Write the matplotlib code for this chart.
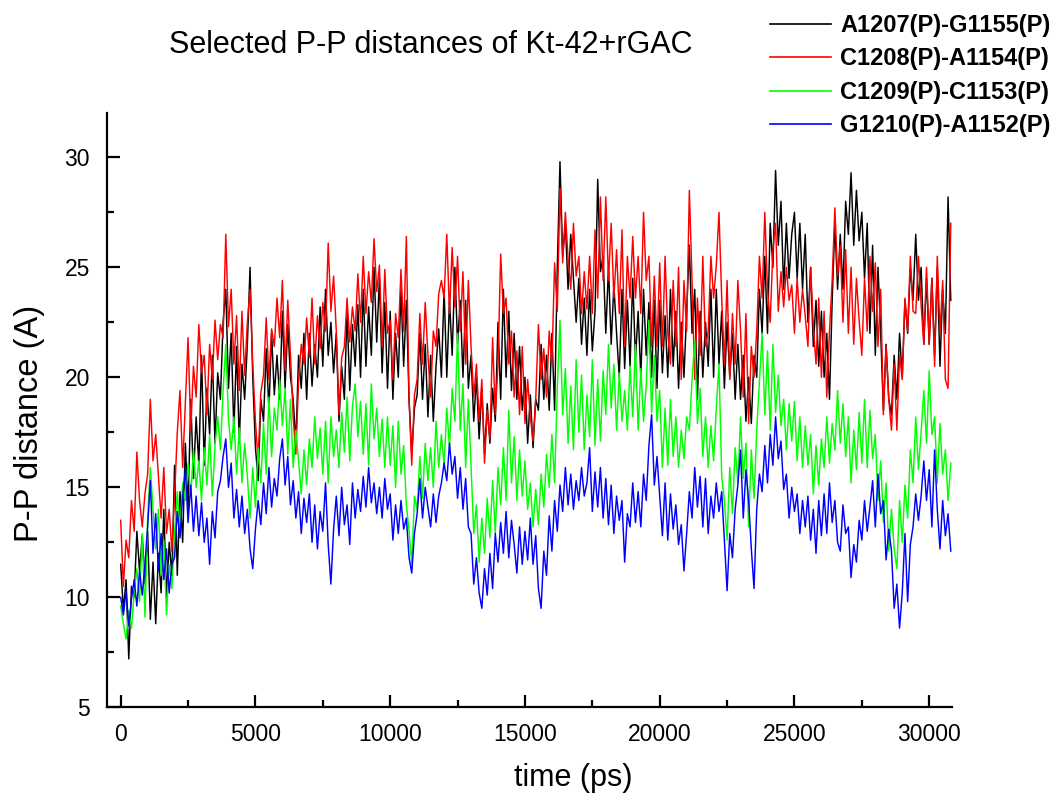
import numpy as np
import matplotlib
matplotlib.use("Agg")
import matplotlib.pyplot as plt
from matplotlib.ticker import MultipleLocator

plt.rcParams['font.family'] = ['Liberation Sans', 'DejaVu Sans']

title = "Selected P-P distances of Kt-42+rGAC"
xlabel = "time (ps)"
ylabel = "P-P distance (A)"
labels = ["A1207(P)-G1155(P)", "C1208(P)-A1154(P)", "C1209(P)-C1153(P)", "G1210(P)-A1152(P)"]
colors = ["#000000", "#ff0000", "#00ff00", "#0000ff"]
dt = 100  # ps between samples

black_A1207 = [
    11.5, 9.4, 10.8, 7.2, 10.5, 10.0, 13.0, 11.2, 12.8, 10.6,
    13.0, 9.0, 11.6, 8.8, 12.0, 10.2, 14.0, 10.0, 12.5, 11.0,
    16.0, 11.0, 14.8, 12.5, 17.0, 14.0, 19.0, 15.4, 18.2, 16.0,
    21.0, 16.0, 19.5, 17.4, 21.0, 17.0, 20.2, 19.0, 22.5, 24.0,
    19.5, 22.0, 17.5, 21.4, 17.0, 20.6, 19.0, 21.5, 25.0, 20.0,
    16.8, 15.3, 19.0, 18.0, 21.3, 18.5, 22.0, 19.2, 21.0, 19.0,
    23.0, 19.5, 22.4, 20.0, 19.0, 17.0, 21.0, 19.5, 22.0, 19.0,
    22.0, 19.6, 21.5, 20.0, 23.2, 20.5, 24.0, 21.0, 22.5, 20.2,
    22.0, 18.0, 20.5, 19.0, 23.0, 19.4, 22.4, 20.5, 23.3, 20.0,
    24.0, 20.5, 23.2, 21.0, 25.0, 21.6, 24.5, 20.2, 23.4, 19.5,
    23.0, 19.0, 22.0, 20.0, 24.0, 20.5, 23.5, 19.0, 16.5, 18.6,
    19.2, 22.0, 19.0, 21.5, 18.2, 21.0, 18.0, 20.5, 22.2, 20.0,
    24.0, 20.0, 23.5, 21.0, 25.0, 21.5, 23.5, 20.0, 23.5, 19.5,
    21.0, 18.0, 20.0, 17.2, 19.5, 16.5, 18.8, 17.0, 19.5, 18.0,
    22.5, 19.0, 24.0, 20.0, 23.0, 19.4, 22.0, 19.0, 21.4, 18.5,
    20.0, 17.0, 19.2, 16.8, 19.0, 18.5, 21.5, 19.0, 21.0, 18.5,
    22.0, 18.5, 25.0, 29.8, 25.5, 27.0, 24.0, 26.5, 24.5, 22.5,
    24.5, 21.5, 23.6, 21.0, 24.0, 21.2, 23.0, 29.0, 24.8, 25.5,
    22.0, 25.0, 21.5, 24.2, 22.0, 20.0, 24.0, 20.4, 23.5, 20.5,
    24.5, 20.8, 23.0, 20.0, 24.0, 21.0, 23.4, 20.0, 23.5, 19.5,
    23.5, 20.2, 22.8, 20.0, 24.0, 20.5, 23.0, 19.5, 22.5, 20.0,
    23.0, 26.0, 22.0, 24.0, 19.0, 23.0, 20.0, 22.5, 20.5, 24.0,
    20.0, 24.0, 20.6, 23.0, 19.5, 22.5, 20.0, 22.0, 19.0, 21.5,
    19.0, 21.0, 18.0, 20.0, 17.9, 21.0, 20.0, 24.0, 22.0, 25.5,
    22.0, 27.0, 25.0, 29.4, 26.0, 28.0, 24.0, 27.0, 24.5, 26.5,
    27.5, 24.5, 27.0, 24.0, 26.5, 22.5, 25.0, 21.4, 23.5, 20.5,
    23.0, 20.0, 22.0, 19.0, 23.5, 27.0, 24.0, 26.5, 24.0, 28.0,
    26.5, 29.3, 26.0, 28.5, 26.2, 27.5, 24.5, 27.0, 22.0, 26.0,
    21.0, 25.0, 22.0, 18.5, 21.5, 19.0, 18.3, 21.0, 19.0, 22.0,
    20.0, 23.5, 22.0, 25.0, 23.5, 26.5, 23.5, 25.0, 21.5, 24.5,
    21.5, 24.5, 21.0, 25.0, 20.5, 24.0, 22.0, 28.2, 23.5,
]

red_C1208 = [
    13.5, 10.5, 12.6, 11.8, 14.4, 13.0, 16.6, 14.4, 13.2, 14.7,
    15.6, 19.0, 16.2, 17.4, 15.5, 13.6, 15.9, 12.9, 14.0, 12.1,
    14.6, 17.5, 19.4, 15.9, 18.8, 21.8, 17.6, 20.5, 19.1, 22.4,
    20.2, 21.0, 18.3, 21.5, 19.9, 22.6, 20.8, 22.4, 21.8, 26.5,
    22.3, 24.0, 20.6, 22.8, 19.4, 23.0, 20.1, 22.5, 24.0, 20.6,
    18.0, 16.2, 19.3, 20.1, 22.7, 19.9, 22.2, 21.4, 23.6, 21.8,
    24.4, 20.3, 23.5, 21.0, 18.2, 16.5, 19.8, 21.5, 20.6, 22.7,
    20.9, 23.6, 20.6, 22.8, 21.3, 23.4, 22.1, 26.1, 23.0, 24.6,
    22.1, 18.3, 20.9, 21.4, 23.6, 21.6, 23.2, 22.1, 24.7, 22.5,
    25.5, 22.9, 24.8, 23.4, 26.3, 23.9, 25.1, 21.4, 24.9, 22.0,
    22.6, 19.9, 22.9, 21.8, 24.9, 22.1, 26.4, 19.0, 16.0, 19.2,
    19.9, 22.9, 20.6, 23.4, 21.0, 19.1, 22.1, 21.4, 23.8, 24.4,
    23.6, 26.5, 22.9, 25.9, 23.2, 25.5, 22.1, 24.8, 20.6, 24.4,
    21.4, 19.1, 20.6, 18.0, 19.9, 16.1, 18.5, 17.2, 21.8, 18.3,
    20.6, 25.6, 22.9, 23.6, 20.6, 22.1, 19.1, 21.2, 18.3, 21.4,
    17.9, 19.9, 18.2, 17.1, 19.0, 22.4, 19.9, 21.3, 19.1, 22.1,
    20.6, 25.2, 23.0, 28.6, 25.2, 27.5, 25.4, 24.0, 27.0, 24.6,
    25.5, 22.9, 24.8, 23.1, 25.5, 22.9, 26.7, 23.6, 28.2, 24.4,
    28.2, 24.4, 27.0, 23.6, 25.8, 22.9, 26.7, 21.4, 25.5, 23.6,
    26.4, 23.6, 25.5, 22.9, 27.5, 24.4, 25.5, 21.4, 24.6, 21.4,
    25.2, 21.4, 25.5, 22.0, 20.6, 24.4, 21.4, 25.0, 19.9, 24.4,
    22.1, 28.5, 24.4, 19.9, 23.6, 21.0, 25.5, 21.4, 22.1, 25.5,
    23.6, 25.1, 27.5, 23.6, 20.6, 24.4, 19.9, 22.9, 20.6, 24.4,
    22.1, 19.1, 22.9, 17.9, 21.4, 20.0, 22.1, 25.5, 23.6, 27.5,
    24.0, 22.5, 25.8, 27.0, 23.0, 24.8, 23.2, 25.0, 23.5, 24.2,
    22.0, 24.5, 22.5, 24.0, 22.8, 21.4, 25.0, 22.3, 20.6, 23.6,
    20.0, 23.0, 19.1, 22.1, 24.4, 27.7, 24.6, 26.0, 22.5, 25.8,
    22.0, 25.0, 21.5, 24.5, 22.6, 21.0, 24.5, 22.1, 25.5, 23.0,
    25.2, 21.4, 24.0, 18.3, 21.4, 19.0, 17.6, 20.6, 17.6, 21.0,
    19.9, 23.6, 22.1, 25.5, 23.0, 22.9, 25.5, 23.3, 21.5, 25.0,
    21.5, 24.5, 20.5, 25.5, 22.0, 24.4, 19.9, 19.5, 27.0,
]

green_C1209 = [
    9.6, 8.8, 8.1, 9.4, 8.6, 10.2, 11.3, 9.8, 12.9, 9.1,
    13.6, 15.9, 14.0, 12.2, 14.0, 11.0, 12.6, 9.2, 11.5, 10.4,
    12.9, 14.8, 13.1, 15.2, 14.4, 16.1, 14.6, 16.7, 15.0, 16.2,
    14.4, 16.8, 15.1, 17.4, 14.6, 16.9, 18.2, 16.7, 19.4, 21.5,
    18.1, 16.7, 18.2, 15.6, 17.7, 15.2, 17.0, 15.5, 13.6, 15.9,
    14.1, 16.8, 15.2, 17.9, 15.6, 19.1, 16.4, 18.6, 17.6, 19.9,
    17.8, 19.5, 16.5, 19.0, 15.9, 17.6, 16.2, 14.7, 16.7, 15.1,
    17.2, 15.9, 18.2, 16.3, 17.7, 15.6, 18.0, 15.2, 18.2, 16.4,
    17.6, 15.9, 18.4, 16.6, 19.1, 16.2, 18.7, 19.7, 17.3, 18.9,
    16.5, 18.8, 16.0, 19.7, 17.2, 18.6, 16.4, 18.1, 15.9, 18.2,
    16.0, 17.8, 15.0, 18.0, 15.6, 16.9, 14.2, 13.0, 11.5, 14.6,
    14.0, 16.4, 14.5, 17.0, 15.3, 16.8, 15.0, 18.0, 15.9, 17.4,
    16.0, 18.6, 16.8, 19.5, 18.0, 22.0, 17.6, 19.7, 15.9, 19.0,
    15.9, 12.9, 14.2, 11.6, 13.6, 12.0, 14.5, 12.7, 15.3, 12.9,
    15.9, 14.2, 16.8, 14.4, 18.5, 15.2, 17.3, 14.4, 16.7, 14.6,
    16.2, 14.0, 15.2, 13.2, 14.9, 13.3, 15.6, 14.1, 16.5, 15.0,
    17.4, 15.2, 19.5, 22.6, 18.3, 20.4, 17.0, 19.6, 16.7, 20.8,
    17.5, 20.1, 16.7, 19.2, 17.3, 20.8, 16.9, 19.9, 17.1, 20.3,
    18.3, 21.5, 18.6, 20.6, 17.6, 20.2, 18.0, 19.4, 17.6, 20.5,
    18.2, 21.5, 17.6, 20.4, 18.0, 19.6, 22.6, 18.4, 21.0, 18.0,
    19.4, 15.9, 18.6, 16.0, 19.0, 16.4, 18.2, 15.9, 17.6, 16.3,
    18.2, 17.6, 19.9, 21.7, 17.9, 19.5, 16.4, 18.2, 15.9, 17.8,
    16.2, 18.6, 20.6, 15.5, 14.4, 12.6, 15.9, 13.8, 16.8, 15.2,
    18.2, 15.4, 17.0, 13.2, 16.7, 14.5, 17.6, 19.8, 22.0, 18.3,
    21.2, 17.6, 21.5, 18.4, 20.1, 17.8, 19.0, 16.7, 18.8, 17.1,
    18.9, 16.2, 18.2, 15.9, 17.8, 16.0, 17.4, 14.7, 16.9, 15.1,
    17.2, 15.9, 18.2, 16.1, 17.9, 16.7, 19.4, 17.0, 18.8, 16.4,
    18.2, 15.2, 17.6, 15.8, 18.4, 16.1, 19.0, 15.9, 18.5, 16.3,
    17.4, 14.4, 16.2, 13.4, 15.2, 12.1, 14.0, 12.2, 11.3, 14.4,
    12.5, 15.1, 13.6, 16.7, 15.2, 18.2, 15.8, 17.5, 19.4, 17.0,
    20.3, 17.4, 18.2, 15.2, 17.9, 15.6, 16.7, 14.4, 16.1,
]

blue_G1210 = [
    10.0, 9.2, 10.3, 8.7, 9.9, 10.8, 9.6, 11.2, 10.1, 11.5,
    13.2, 15.3, 12.0, 13.8, 11.2, 12.9, 10.8, 12.2, 10.2, 11.5,
    11.8, 13.9, 12.7, 14.6, 15.8, 13.4, 15.1, 13.0, 14.6, 12.8,
    14.3, 12.5, 13.6, 11.5, 13.9, 12.7, 14.8, 15.3, 16.4, 17.2,
    15.0, 16.1, 13.6, 14.9, 13.2, 14.6, 12.9, 14.0, 12.2, 11.3,
    13.1, 14.4, 13.3, 15.2, 13.8, 15.9, 14.1, 15.4, 14.6, 16.3,
    17.2, 15.1, 16.4, 14.2, 15.3, 13.6, 14.8, 12.9, 14.5, 13.4,
    14.7, 12.5, 14.2, 12.2, 13.9, 13.0, 15.2, 12.4, 10.6, 13.1,
    14.6, 12.8, 15.0, 13.3, 14.2, 12.4, 15.2, 13.6, 14.9, 13.9,
    15.5, 14.1, 15.9, 14.3, 15.2, 13.8, 15.0, 13.6, 15.4, 14.0,
    14.7, 12.6, 14.2, 12.9, 14.4, 13.1, 13.6, 11.8, 11.1, 12.9,
    13.8, 15.4, 13.6, 15.0, 14.1, 13.2, 14.7, 13.4, 14.6, 15.2,
    16.1, 15.3, 17.0, 15.6, 16.4, 14.5, 15.9, 14.0, 15.4, 13.2,
    12.9, 10.6, 11.8, 10.2, 9.5, 11.3, 10.1, 12.0, 10.4, 12.9,
    11.6, 13.4, 12.0, 13.9, 11.8, 13.5, 12.4, 11.1, 13.2, 11.5,
    13.0, 11.7, 13.6, 11.5, 12.8, 10.4, 9.5, 12.1, 11.0, 13.7,
    12.1, 14.4, 13.0, 15.1, 13.9, 15.9, 14.2, 15.6, 14.0, 15.3,
    14.4, 15.9, 14.6, 15.2, 16.8, 13.9, 15.7, 14.1, 15.9, 13.6,
    15.4, 13.3, 15.1, 12.9, 14.6, 13.5, 14.4, 11.6, 13.8, 13.2,
    15.2, 13.4, 14.8, 13.2, 15.6, 14.4, 16.9, 18.3, 15.1, 16.4,
    14.6, 12.8, 15.2, 12.6, 14.7, 13.1, 14.2, 12.4, 13.3, 11.2,
    12.9, 14.8, 13.6, 15.9, 14.1, 15.5, 13.2, 15.4, 12.9, 14.6,
    13.6, 15.2, 13.9, 14.8, 12.6, 10.3, 12.9, 11.8, 14.0, 15.1,
    16.7, 13.6, 15.8, 14.4, 12.2, 10.4, 14.0, 15.6, 14.8, 16.9,
    15.2, 17.4, 16.0, 18.2, 16.3, 17.1, 14.9, 15.6, 13.6, 15.0,
    13.9, 14.7, 12.9, 14.4, 13.2, 14.6, 12.6, 14.0, 12.0, 14.4,
    12.8, 14.7, 12.9, 15.2, 13.4, 14.4, 12.5, 12.1, 14.2, 12.9,
    13.2, 10.9, 12.4, 11.6, 13.5, 12.6, 14.4, 13.0, 14.1, 15.3,
    13.2, 15.6, 13.8, 14.4, 11.7, 13.1, 12.1, 9.5, 10.6, 8.6,
    10.2, 12.9, 9.8, 12.4, 13.2, 14.7, 13.5, 14.6, 16.2, 14.4,
    15.8, 13.2, 16.7, 14.0, 12.2, 14.4, 12.8, 13.8, 12.1,
]

series = [black_A1207, red_C1208, green_C1209, blue_G1210]

W, H = 1064, 799
fig = plt.figure(figsize=(W / 100, H / 100), dpi=100)
L, R, T, B = 106.7, 952.3, 113.3, 707.3
ax = fig.add_axes([L / W, 1 - B / H, (R - L) / W, (B - T) / H])

handles = []
for vals, col, lab in zip(series, colors, labels):
    t = np.arange(len(vals)) * dt
    h, = ax.plot(t, vals, color=col, lw=1.05, label=lab)
    handles.append(h)

ax.set_xlim(-519, 30857)
ax.set_ylim(5, 32)
for s in ['top', 'right']:
    ax.spines[s].set_visible(False)
for s in ['left', 'bottom']:
    ax.spines[s].set_linewidth(1.6)

ax.xaxis.set_major_locator(MultipleLocator(5000))
ax.xaxis.set_minor_locator(MultipleLocator(2500))
ax.yaxis.set_major_locator(MultipleLocator(5))
ax.yaxis.set_minor_locator(MultipleLocator(2.5))
ax.tick_params(which='both', direction='in', width=1.6, labelsize=16.5)
ax.tick_params(which='major', length=9)
ax.tick_params(which='minor', length=5)
ax.tick_params(axis='x', pad=11)
ax.tick_params(axis='y', pad=12)

fig.text(431 / W, 1 - 53 / H, title, ha='center', va='baseline', fontsize=22)
fig.text(573 / W, 1 - 786 / H, xlabel, ha='center', va='baseline', fontsize=22)
fig.text(38.5 / W, 1 - 423 / H, ylabel, ha='center', va='baseline', fontsize=23.5,
         rotation=90, rotation_mode='anchor')

leg = fig.legend(handles=handles, labels=labels, loc='upper left',
                 bbox_to_anchor=(770 / W, 1 - 14 / H), frameon=False,
                 borderpad=0, borderaxespad=0, handlelength=2.6,
                 handletextpad=0.37, labelspacing=0.44,
                 prop={'weight': 'bold', 'size': 17})
for lh in leg.get_lines():
    lh.set_linewidth(1.2)

fig.savefig("out.png", dpi=100)
